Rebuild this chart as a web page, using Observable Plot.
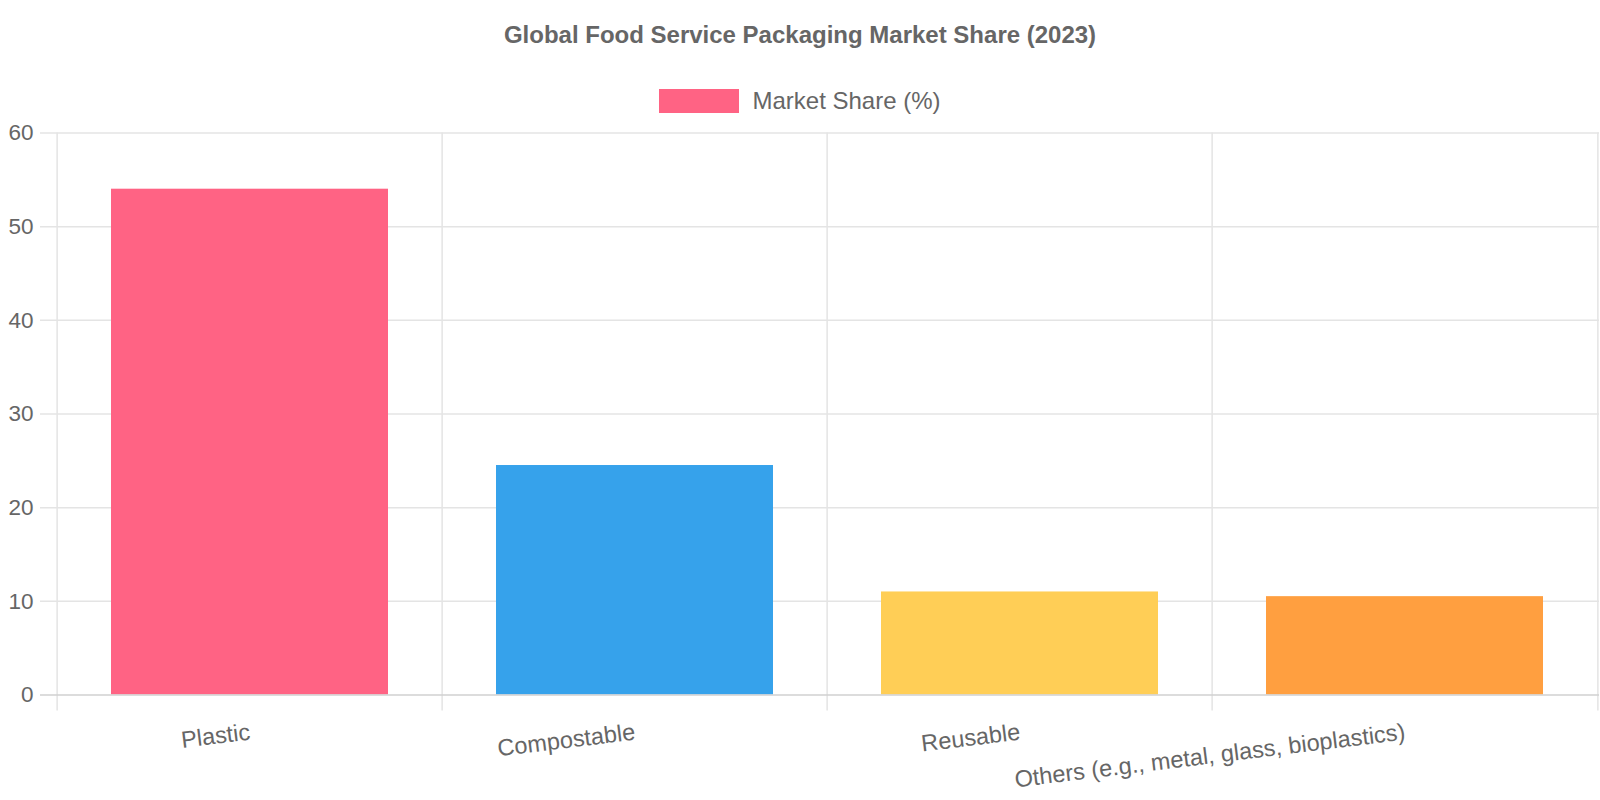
<!DOCTYPE html>
<html>
<head>
<meta charset="utf-8">
<script src="https://cdn.jsdelivr.net/npm/d3@7"></script>
<script src="https://cdn.jsdelivr.net/npm/@observablehq/plot@0.6"></script>
<style>
  html, body { margin: 0; padding: 0; background: #fff; }
  body { font-family: "Liberation Sans", Arial, Helvetica, sans-serif; }
  #wrap { position: relative; width: 1600px; height: 800px; overflow: hidden; }
  #title { position: absolute; left: 0; top: 22px; width: 1600px; text-align: center;
           font-weight: bold; font-size: 24px; line-height: 26px; color: #666; }
  #legend { position: absolute; left: 0; top: 88px; width: 1600px; height: 25px;
            display: flex; justify-content: center; align-items: center; }
  #legend .box { width: 80px; height: 24px; margin-right: 13px; }
  #legend .lab { font-size: 24px; color: #666; line-height: 25px; }
  #chart { position: absolute; left: 0; top: 120px; }
</style>
</head>
<body>
<div id="wrap">
  <div id="title"></div>
  <div id="legend"><div class="box"></div><div class="lab"></div></div>
  <div id="chart"></div>
</div>
<script>
const chartTitle = "Global Food Service Packaging Market Share (2023)";
const seriesName = "Market Share (%)";
const categories = ["Plastic", "Compostable", "Reusable", "Others (e.g., metal, glass, bioplastics)"];
const shares = [54, 24.5, 11, 10.5];
const barColors = ["#FF6384", "#36A2EB", "#FFCE56", "#FF9F40"];
const yTicks = [0, 10, 20, 30, 40, 50, 60];

document.getElementById("title").textContent = chartTitle;
document.querySelector("#legend .lab").textContent = seriesName;
document.querySelector("#legend .box").style.background = barColors[0];

const data = categories.map((c, i) => ({category: c, share: shares[i]}));

const W = 1600, H = 680, mL = 56, mR = 1, mT = 12.5, mB = 105.5;
const step = (W - mL - mR) / categories.length;
const gridColor = "#e4e4e4";

const chart = Plot.plot({
  width: W, height: H,
  marginLeft: mL, marginRight: mR, marginTop: mT, marginBottom: mB,
  style: {fontFamily: '"Liberation Sans", Arial, Helvetica, sans-serif', color: "#666", background: "transparent", overflow: "visible"},
  x: {type: "band", domain: categories, paddingInner: 0.28, paddingOuter: 0.14, align: 0.5, label: null},
  y: {domain: [0, 60], label: null},
  color: {domain: categories, range: barColors},
  marks: [
    Plot.ruleY(yTicks.filter(d => d > 0), {y: d => d, stroke: gridColor, strokeWidth: 1.5, insetLeft: -16}),
    Plot.ruleX(categories, {x: d => d, dx: -step / 2, stroke: gridColor, strokeWidth: 1.5, insetBottom: -16}),
    Plot.ruleX(categories.slice(-1), {x: d => d, dx: step / 2, stroke: gridColor, strokeWidth: 1.5, insetBottom: -16}),
    Plot.barY(data, {x: "category", y: "share", fill: "category"}),
    Plot.ruleY([0], {stroke: "#d0d0d0", strokeWidth: 1.5, insetLeft: -16}),
    Plot.axisY({ticks: yTicks, tickSize: 0, tickPadding: 23, fontSize: 22.5, fill: "#666", label: null}),
    Plot.axisX({tickSize: 0, tickRotate: -7, tickPadding: 37, textAnchor: "end", lineAnchor: "middle", fontSize: 23.5, fill: "#666", label: null})
  ]
});
document.getElementById("chart").appendChild(chart);
</script>
</body>
</html>
